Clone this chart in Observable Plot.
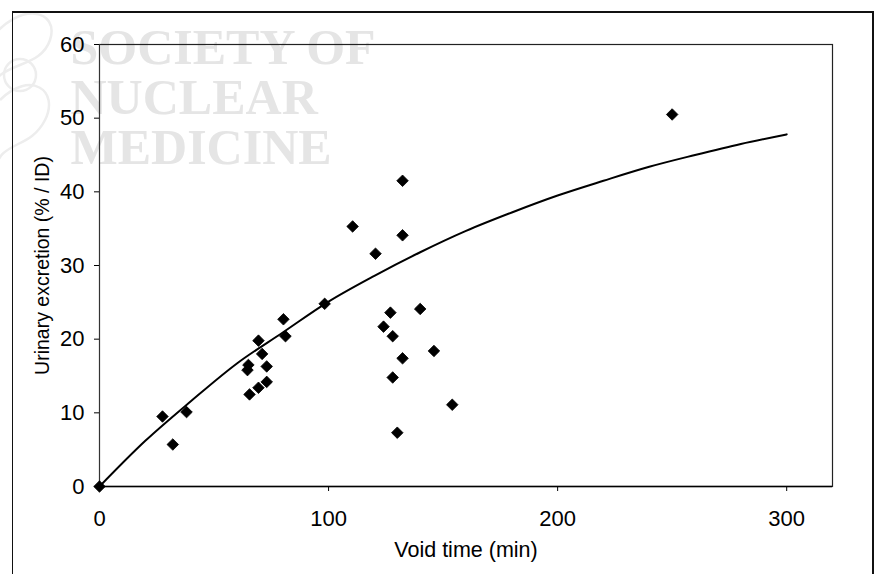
<!DOCTYPE html>
<html>
<head>
<meta charset="utf-8">
<script src="https://cdn.jsdelivr.net/npm/d3@7"></script>
<script src="https://cdn.jsdelivr.net/npm/@observablehq/plot@0.6"></script>
<style>
  html, body { margin: 0; padding: 0; background: #fff; }
  #wrap { position: relative; width: 879px; height: 574px; overflow: hidden; }
  #border { position: absolute; left: 12px; top: 11px; width: 862px; height: 600px;
            border: 2px solid #111; border-left-width: 1.5px; box-sizing: border-box; }
  #logo { position: absolute; left: 0; top: 0; }
  #chart { position: absolute; left: 0; top: 0; }
  #chart svg { background: transparent !important; }
</style>
</head>
<body>
<div id="wrap">
  <svg id="logo" width="80" height="180">
    <g fill="none" stroke="#ededed" stroke-width="2.5">
      <path d="M-10,40 C20,0 60,10 50,40 C40,70 0,60 -10,90"/>
      <path d="M0,100 C30,70 60,90 45,120 C30,150 0,140 -5,170"/>
      <circle cx="20" cy="75" r="16"/>
    </g>
  </svg>
  <div id="border"></div>
  <div id="chart"></div>
</div>
<script>
const voidTime  = [0, 27.5, 32, 38, 64.6, 65, 65.5, 69.4, 69.4, 71, 73, 73, 80.3, 81.2, 98.3, 110.5, 120.5, 124, 127, 128, 128, 130, 132.3, 132.3, 132.3, 140, 146, 154, 250];
const excretion = [0, 9.5, 5.7, 10.1, 15.8, 16.5, 12.5, 19.8, 13.4, 18.0, 16.3, 14.2, 22.7, 20.4, 24.8, 35.3, 31.6, 21.7, 23.6, 20.4, 14.8, 7.3, 17.4, 34.1, 41.5, 24.1, 18.4, 11.1, 50.5];

const curveX = [0, 20, 40, 60, 80, 100, 120, 140, 160, 180, 200, 220, 240, 260, 280, 300];
const curveY = [0, 6.2, 11.6, 16.7, 20.9, 25.1, 28.6, 31.8, 34.7, 37.2, 39.5, 41.5, 43.4, 45.0, 46.5, 47.8];

const xTicks = [0, 100, 200, 300];
const yTicks = [0, 10, 20, 30, 40, 50, 60];
const watermark = ["SOCIETY OF\nNUCLEAR\nMEDICINE"];

const points = voidTime.map((t, i) => ({t, e: excretion[i]}));
const curve = curveX.map((t, i) => ({t, e: curveY[i]}));

const chart = Plot.plot({
  width: 879,
  height: 574,
  marginLeft: 99,
  marginRight: 47,
  marginTop: 44,
  marginBottom: 88,
  style: {fontFamily: "'Liberation Sans', Arial, sans-serif", fontSize: "22px", color: "#000", background: "transparent"},
  x: {domain: [0, 320]},
  y: {domain: [0, 60]},
  marks: [
    Plot.text(watermark, {
      frameAnchor: "top-left", dx: -29, dy: -16, textAnchor: "start", lineAnchor: "top",
      lineHeight: 1, fontSize: 50, fontWeight: "bold",
      fontFamily: "'Liberation Serif', 'Times New Roman', serif", fill: "#e5e5e5"
    }),
    Plot.frame({stroke: "#222", strokeWidth: 1.2}),
    Plot.ruleY([0], {stroke: "#000", strokeWidth: 1.5}),
    Plot.ruleX([0], {stroke: "#333", strokeWidth: 1}),
    Plot.axisY({ticks: yTicks, tickSize: 5, tickPadding: 10, fontSize: 22,
      label: null}),
    Plot.axisY({ticks: [], tickSize: 0, fontSize: 19.5,
      label: "Urinary excretion (% / ID)", labelAnchor: "center", labelOffset: 64, labelArrow: "none"}),
    Plot.axisX({ticks: xTicks, tickSize: 5, tickPadding: 19, fontSize: 22,
      label: null}),
    Plot.axisX({ticks: [], tickSize: 0, fontSize: 21.5,
      label: "Void time (min)", labelAnchor: "center", labelOffset: 70, labelArrow: "none"}),
    Plot.line(curve, {x: "t", y: "e", curve: "monotone-x", stroke: "#000", strokeWidth: 2}),
    Plot.dot(points, {x: "t", y: "e", symbol: "diamond2", r: 5.2, fill: "#000", stroke: "#000", strokeWidth: 0.8})
  ]
});
document.getElementById("chart").appendChild(chart);
</script>
</body>
</html>
